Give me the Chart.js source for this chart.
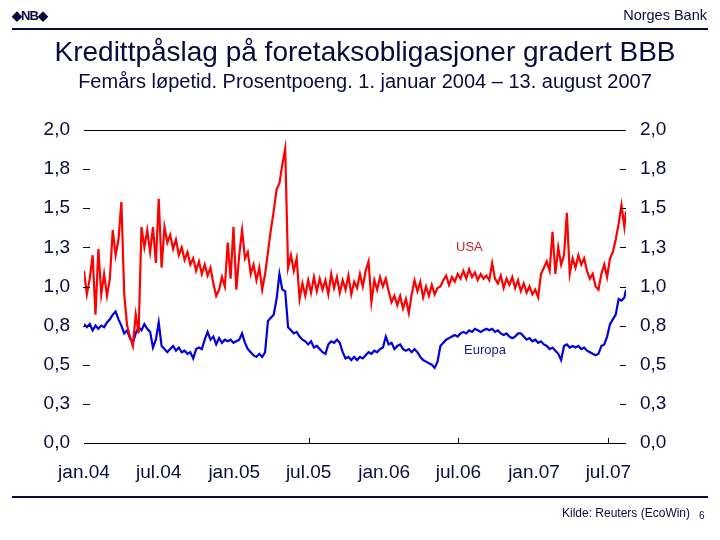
<!DOCTYPE html>
<html>
<head>
<meta charset="utf-8">
<script src="https://cdn.jsdelivr.net/npm/chart.js@4.4.0/dist/chart.umd.min.js"></script>
<style>
  body { margin: 0; background: #fff; font-family: "Liberation Sans", Arial, sans-serif; }
  #wrap { position: relative; width: 720px; height: 540px; overflow: hidden; }
  canvas { position: absolute; left: 0; top: 0; }
  .txt { position: absolute; color: #0a0a3c; white-space: nowrap; }
  .rule { position: absolute; left: 12px; width: 696px; height: 2px; background: #0a0a3c; }
</style>
</head>
<body>
<div id="wrap">
  <canvas id="chart" width="720" height="540"></canvas>
  <div class="txt" style="left:12px; top:8px; font-size:13px; font-weight:bold; letter-spacing:-1px;">◆NB◆</div>
  <div class="txt" style="right:13px; top:7px; font-size:14.5px;">Norges Bank</div>
  <div class="rule" style="top:28px;"></div>
  <div class="txt" style="left:0; width:730px; text-align:center; top:36px; font-size:28px;">Kredittpåslag på foretaksobligasjoner gradert BBB</div>
  <div class="txt" style="left:0; width:730px; text-align:center; top:70px; font-size:20px;">Femårs løpetid. Prosentpoeng. 1. januar 2004 – 13. august 2007</div>
  <div class="txt" style="left:456px; top:239px; font-size:13px; color:#d02020;">USA</div>
  <div class="txt" style="left:464px; top:342px; font-size:13px; color:#1a1a90;">Europa</div>
  <div class="rule" style="top:496px;"></div>
  <div class="txt" style="left:562px; top:506px; font-size:12px;">Kilde: Reuters (EcoWin)</div>
  <div class="txt" style="left:699px; top:510px; font-size:10px;">6</div>
</div>
<script>
// Ukentlige observasjoner fra 1. januar 2004 (dag 0) til 13. august 2007 (dag 1320)
const usa = [
  1.10, 0.95, 1.05, 1.20, 0.82, 1.24, 0.95, 1.08, 0.94, 1.05,
  1.36, 1.20, 1.30, 1.54, 0.95, 0.75, 0.68, 0.62, 0.82, 0.70,
  1.38, 1.25, 1.36, 1.22, 1.38, 1.15, 1.56, 1.12, 1.38, 1.28,
  1.33, 1.24, 1.30, 1.20, 1.25, 1.17, 1.22, 1.14, 1.18, 1.10,
  1.16, 1.08, 1.14, 1.07, 1.12, 1.02, 0.94, 0.98, 1.06, 1.00,
  1.28, 1.05, 1.38, 0.98, 1.20, 1.36, 1.18, 1.22, 1.08, 1.14,
  1.04, 1.12, 0.98, 1.08, 1.22, 1.36, 1.48, 1.62, 1.66, 1.78,
  1.88, 1.12, 1.20, 1.10, 1.18, 0.92, 1.02, 0.94, 1.04, 0.96,
  1.06, 0.97, 1.05, 0.98, 1.04, 0.95, 1.08, 0.99, 1.06, 0.96,
  1.04, 0.98, 1.07, 0.95, 1.03, 0.99, 1.08, 1.00, 1.10, 1.16,
  0.90, 1.04, 0.98, 1.06, 1.00, 1.05, 0.97, 0.90, 0.94, 0.88,
  0.94, 0.86, 0.92, 0.83, 0.95, 1.04, 0.97, 1.03, 0.93, 1.00,
  0.94, 1.01, 0.95, 0.99, 1.00, 1.04, 1.07, 1.01, 1.06, 1.03,
  1.08, 1.05, 1.10, 1.05, 1.11, 1.06, 1.09, 1.04, 1.08, 1.05,
  1.07, 1.04, 1.15, 1.05, 1.02, 1.07, 0.99, 1.05, 1.01, 1.06,
  0.99, 1.04, 0.97, 1.02, 0.96, 1.00, 0.95, 0.98, 0.93, 1.08,
  1.12, 1.16, 1.10, 1.35, 1.08, 1.25, 1.14, 1.20, 1.47, 1.08,
  1.18, 1.12, 1.20, 1.14, 1.18, 1.10, 1.05, 1.08, 1.00, 0.98,
  1.08, 1.14, 1.06, 1.18, 1.22, 1.30, 1.40, 1.52, 1.38, 1.48
];

const europa = [
  0.76, 0.74, 0.76, 0.72, 0.75, 0.73, 0.75, 0.74, 0.77, 0.79,
  0.82, 0.84, 0.79, 0.75, 0.70, 0.72, 0.67, 0.64, 0.70, 0.74,
  0.72, 0.76, 0.73, 0.71, 0.61, 0.66, 0.77, 0.62, 0.60, 0.58,
  0.60, 0.62, 0.59, 0.61, 0.58, 0.59, 0.57, 0.58, 0.54, 0.60,
  0.61, 0.60, 0.66, 0.71, 0.66, 0.68, 0.63, 0.67, 0.64, 0.66,
  0.65, 0.66, 0.64, 0.65, 0.66, 0.70, 0.64, 0.60, 0.58, 0.56,
  0.55, 0.57, 0.55, 0.58, 0.78, 0.80, 0.82, 0.92, 1.08, 0.98,
  0.97, 0.74, 0.72, 0.70, 0.71, 0.68, 0.66, 0.65, 0.63, 0.65,
  0.61, 0.62, 0.60, 0.58, 0.57, 0.63, 0.65, 0.64, 0.66, 0.64,
  0.58, 0.54, 0.55, 0.53, 0.55, 0.53, 0.55, 0.54, 0.56, 0.58,
  0.57, 0.59, 0.58, 0.60, 0.61, 0.68, 0.63, 0.64, 0.60, 0.62,
  0.63, 0.60, 0.59, 0.60, 0.58, 0.60, 0.58, 0.55, 0.53, 0.52,
  0.51, 0.50, 0.48, 0.52, 0.62, 0.64, 0.66, 0.67, 0.68, 0.69,
  0.68, 0.70, 0.71, 0.70, 0.72, 0.71, 0.73, 0.72, 0.71, 0.72,
  0.73, 0.72, 0.73, 0.71, 0.72, 0.70, 0.69, 0.70, 0.68, 0.67,
  0.68, 0.70, 0.70, 0.68, 0.66, 0.67, 0.65, 0.66, 0.64, 0.65,
  0.63, 0.62, 0.60, 0.61, 0.59, 0.57, 0.53, 0.62, 0.63, 0.61,
  0.62, 0.61, 0.62, 0.60, 0.61, 0.59, 0.58, 0.57, 0.56, 0.57,
  0.62, 0.63, 0.68, 0.76, 0.79, 0.82, 0.92, 0.91, 0.93, 0.98
];

// x-aksen: dager siden 1.1.2004
const lastDay = 1320;
const days = usa.map((_, i) => Math.min(i * 7, lastDay));

const tickDays = [0, 182, 366, 547, 731, 912, 1096, 1277];
const tickLabels = ["jan.04", "jul.04", "jan.05", "jul.05", "jan.06", "jul.06", "jan.07", "jul.07"];
const markedDays = [547, 912, 1277];

const yTicks = [0, 0.25, 0.5, 0.75, 1.0, 1.25, 1.5, 1.75, 2.0];

const textColor = "#0a0a3c";
const font = { family: "'Liberation Sans', Arial, sans-serif", size: 19 };

const fmt = (v) => v.toFixed(1).replace(".", ",");

// Små innvendige streker ved tick-verdiene
const innerTicks = {
    id: "innerTicks",
    afterDraw(chart) {
        const ctx = chart.ctx;
        const area = chart.chartArea;
        const y = chart.scales.y;
        const x = chart.scales.x;
        ctx.save();
        ctx.strokeStyle = "#000";
        ctx.lineWidth = 1;
        yTicks.forEach((v) => {
            if (v === 0 || v === 2) return;
            const py = Math.round(y.getPixelForValue(v)) + 0.5;
            ctx.beginPath();
            ctx.moveTo(area.left - 1, py);
            ctx.lineTo(area.left + 6, py);
            ctx.moveTo(area.right - 6, py);
            ctx.lineTo(area.right, py);
            ctx.stroke();
        });
        markedDays.forEach((d) => {
            const px = Math.round(x.getPixelForValue(d)) + 0.5;
            ctx.beginPath();
            ctx.moveTo(px, area.bottom);
            ctx.lineTo(px, area.bottom - 5);
            ctx.stroke();
        });
        ctx.restore();
    },
};

document.addEventListener("DOMContentLoaded", function () {
    const el = document.getElementById("chart");

    new Chart(el.getContext("2d"), {
        type: "line",
        data: {
            datasets: [
                {
                    label: "USA",
                    data: days.map((d, i) => ({ x: d, y: usa[i] })),
                    borderColor: "#ff0000",
                    borderWidth: 2.2,
                    pointRadius: 0,
                    tension: 0,
                    yAxisID: "y",
                },
                {
                    label: "Europa",
                    data: days.map((d, i) => ({ x: d, y: europa[i] })),
                    borderColor: "#0000e0",
                    borderWidth: 2.2,
                    pointRadius: 0,
                    tension: 0,
                    yAxisID: "y",
                },
            ],
        },
        options: {
            responsive: false,
            animation: false,
            layout: { padding: { top: 130, bottom: 47, left: 0, right: 0 } },
            plugins: { legend: { display: false }, tooltip: { enabled: false } },
            scales: {
                x: {
                    type: "linear",
                    min: 0,
                    max: lastDay,
                    afterBuildTicks: (s) => { s.ticks = tickDays.map((v) => ({ value: v })); },
                    afterFit: (s) => { s.height = 50; },
                    ticks: {
                        color: textColor,
                        font: font,
                        padding: 18,
                        maxRotation: 0,
                        autoSkip: false,
                        callback: (v) => tickLabels[tickDays.indexOf(v)],
                    },
                    grid: { display: false, drawTicks: false },
                    border: { display: false },
                },
                y: {
                    position: "left",
                    min: 0,
                    max: 2,
                    afterBuildTicks: (s) => { s.ticks = yTicks.map((v) => ({ value: v })); },
                    afterFit: (s) => { s.width = 84; },
                    ticks: { color: textColor, font: font, padding: 14, callback: fmt },
                    grid: {
                        drawTicks: false,
                        lineWidth: 1,
                        color: (c) => (c.tick.value === 0 || c.tick.value === 2 ? "#000" : "rgba(0,0,0,0)"),
                    },
                    border: { display: false },
                },
                y2: {
                    position: "right",
                    min: 0,
                    max: 2,
                    afterBuildTicks: (s) => { s.ticks = yTicks.map((v) => ({ value: v })); },
                    afterFit: (s) => { s.width = 94; },
                    ticks: { color: textColor, font: font, padding: 14, callback: fmt },
                    grid: { display: false, drawTicks: false },
                    border: { display: false },
                },
            },
        },
        plugins: [innerTicks],
    });
});
</script>
</body>
</html>
